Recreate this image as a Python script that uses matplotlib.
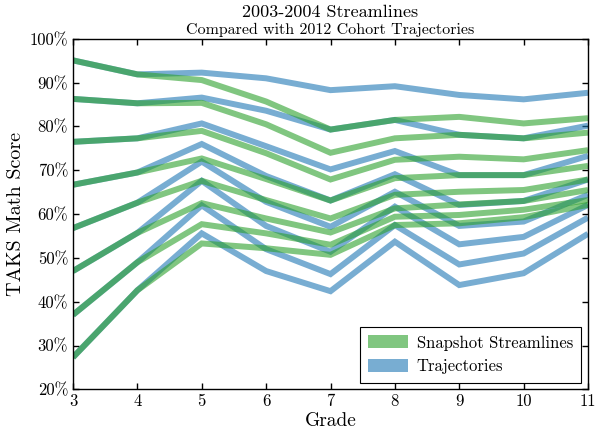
import matplotlib
matplotlib.use("Agg")
import matplotlib.pyplot as plt
from matplotlib.patches import Patch

plt.rcParams['font.family'] = ['cmr10', 'DejaVu Serif']
plt.rcParams['mathtext.fontset'] = 'cm'
plt.rcParams['axes.formatter.use_mathtext'] = True

grades = [3, 4, 5, 6, 7, 8, 9, 10, 11]

streamlines = [
    [95.1, 91.9, 90.6, 85.7, 79.3, 81.5, 82.2, 80.7, 81.9],
    [86.3, 85.3, 85.4, 80.5, 74.0, 77.3, 78.1, 77.3, 78.6],
    [76.5, 77.3, 79.0, 73.9, 67.9, 72.4, 73.1, 72.5, 74.6],
    [66.7, 69.5, 72.7, 68.0, 63.1, 68.2, 68.9, 68.9, 71.0],
    [56.8, 62.6, 67.6, 63.2, 59.0, 64.4, 65.1, 65.5, 67.9],
    [47.0, 55.7, 62.5, 59.0, 55.8, 61.3, 62.2, 63.0, 65.5],
    [37.0, 49.0, 57.7, 55.6, 53.0, 59.4, 59.8, 61.0, 63.2],
    [27.3, 42.6, 53.3, 52.2, 50.7, 57.5, 57.9, 59.3, 62.1],
]

trajectories = [
    [95.1, 91.9, 92.3, 91.0, 88.3, 89.2, 87.2, 86.2, 87.7],
    [86.3, 85.3, 86.6, 83.6, 79.3, 81.5, 78.1, 77.3, 80.2],
    [76.5, 77.3, 80.7, 75.5, 70.2, 74.4, 68.9, 68.9, 73.3],
    [66.7, 69.5, 76.0, 68.7, 63.1, 69.1, 62.1, 63.0, 67.9],
    [56.8, 62.6, 72.0, 62.8, 57.1, 65.1, 57.3, 58.3, 64.4],
    [47.0, 55.7, 67.6, 57.3, 51.4, 61.7, 53.1, 54.8, 62.1],
    [37.0, 49.0, 62.0, 52.0, 46.3, 57.5, 48.5, 51.0, 59.2],
    [27.3, 42.6, 55.6, 47.0, 42.4, 53.7, 43.8, 46.5, 55.5],
]

yticks = [20, 30, 40, 50, 60, 70, 80, 90, 100]
ytick_labels = ["20%", "30%", "40%", "50%", "60%", "70%", "80%", "90%", "100%"]

green = "#2ca02c"
blue = "#1f77b4"
alpha = 0.6
lw = 4.3

fig = plt.figure(figsize=(6.11, 4.40), dpi=100)
ax = fig.add_axes([73/611, 1 - 389.3/440, (588 - 73)/611, (389.3 - 38.9)/440])

for tr in trajectories:
    ax.plot(grades, tr, color=blue, alpha=alpha, lw=lw, solid_joinstyle='miter', solid_capstyle='butt')
for st in streamlines:
    ax.plot(grades, st, color=green, alpha=alpha, lw=lw, solid_joinstyle='miter', solid_capstyle='butt')

ax.set_xlim(3, 11)
ax.set_ylim(20, 100)
ax.set_xticks(grades)
ax.set_xticklabels([str(g) for g in grades])
ax.set_yticks(yticks)
ax.set_yticklabels(ytick_labels)
ax.tick_params(direction='in', top=True, right=True, labelsize=12, length=4, width=1)
for s in ax.spines.values():
    s.set_linewidth(1.0)

ax.set_xlabel("Grade", fontsize=14, labelpad=2)
ax.set_ylabel("TAKS Math Score", fontsize=14.5, labelpad=3)

cx = (73 + 588) / 2 / 611
fig.text(cx, 1 - 12/440, "2003-2004 Streamlines", ha='center', va='center', fontsize=13)
fig.text(cx, 1 - 30/440, "Compared with 2012 Cohort Trajectories", ha='center', va='center', fontsize=11.5)

handles = [Patch(facecolor=green, alpha=alpha, edgecolor='none'),
           Patch(facecolor=blue, alpha=alpha, edgecolor='none')]
leg = ax.legend(handles, ["Snapshot Streamlines", "Trajectories"], loc='lower right',
                fontsize=12, fancybox=False, edgecolor='black', framealpha=1,
                handlelength=2.4, handleheight=0.8, handletextpad=0.5,
                borderpad=0.5, labelspacing=0.5, borderaxespad=0.4)
leg.get_frame().set_linewidth(0.8)

fig.savefig("out.png", dpi=100)
